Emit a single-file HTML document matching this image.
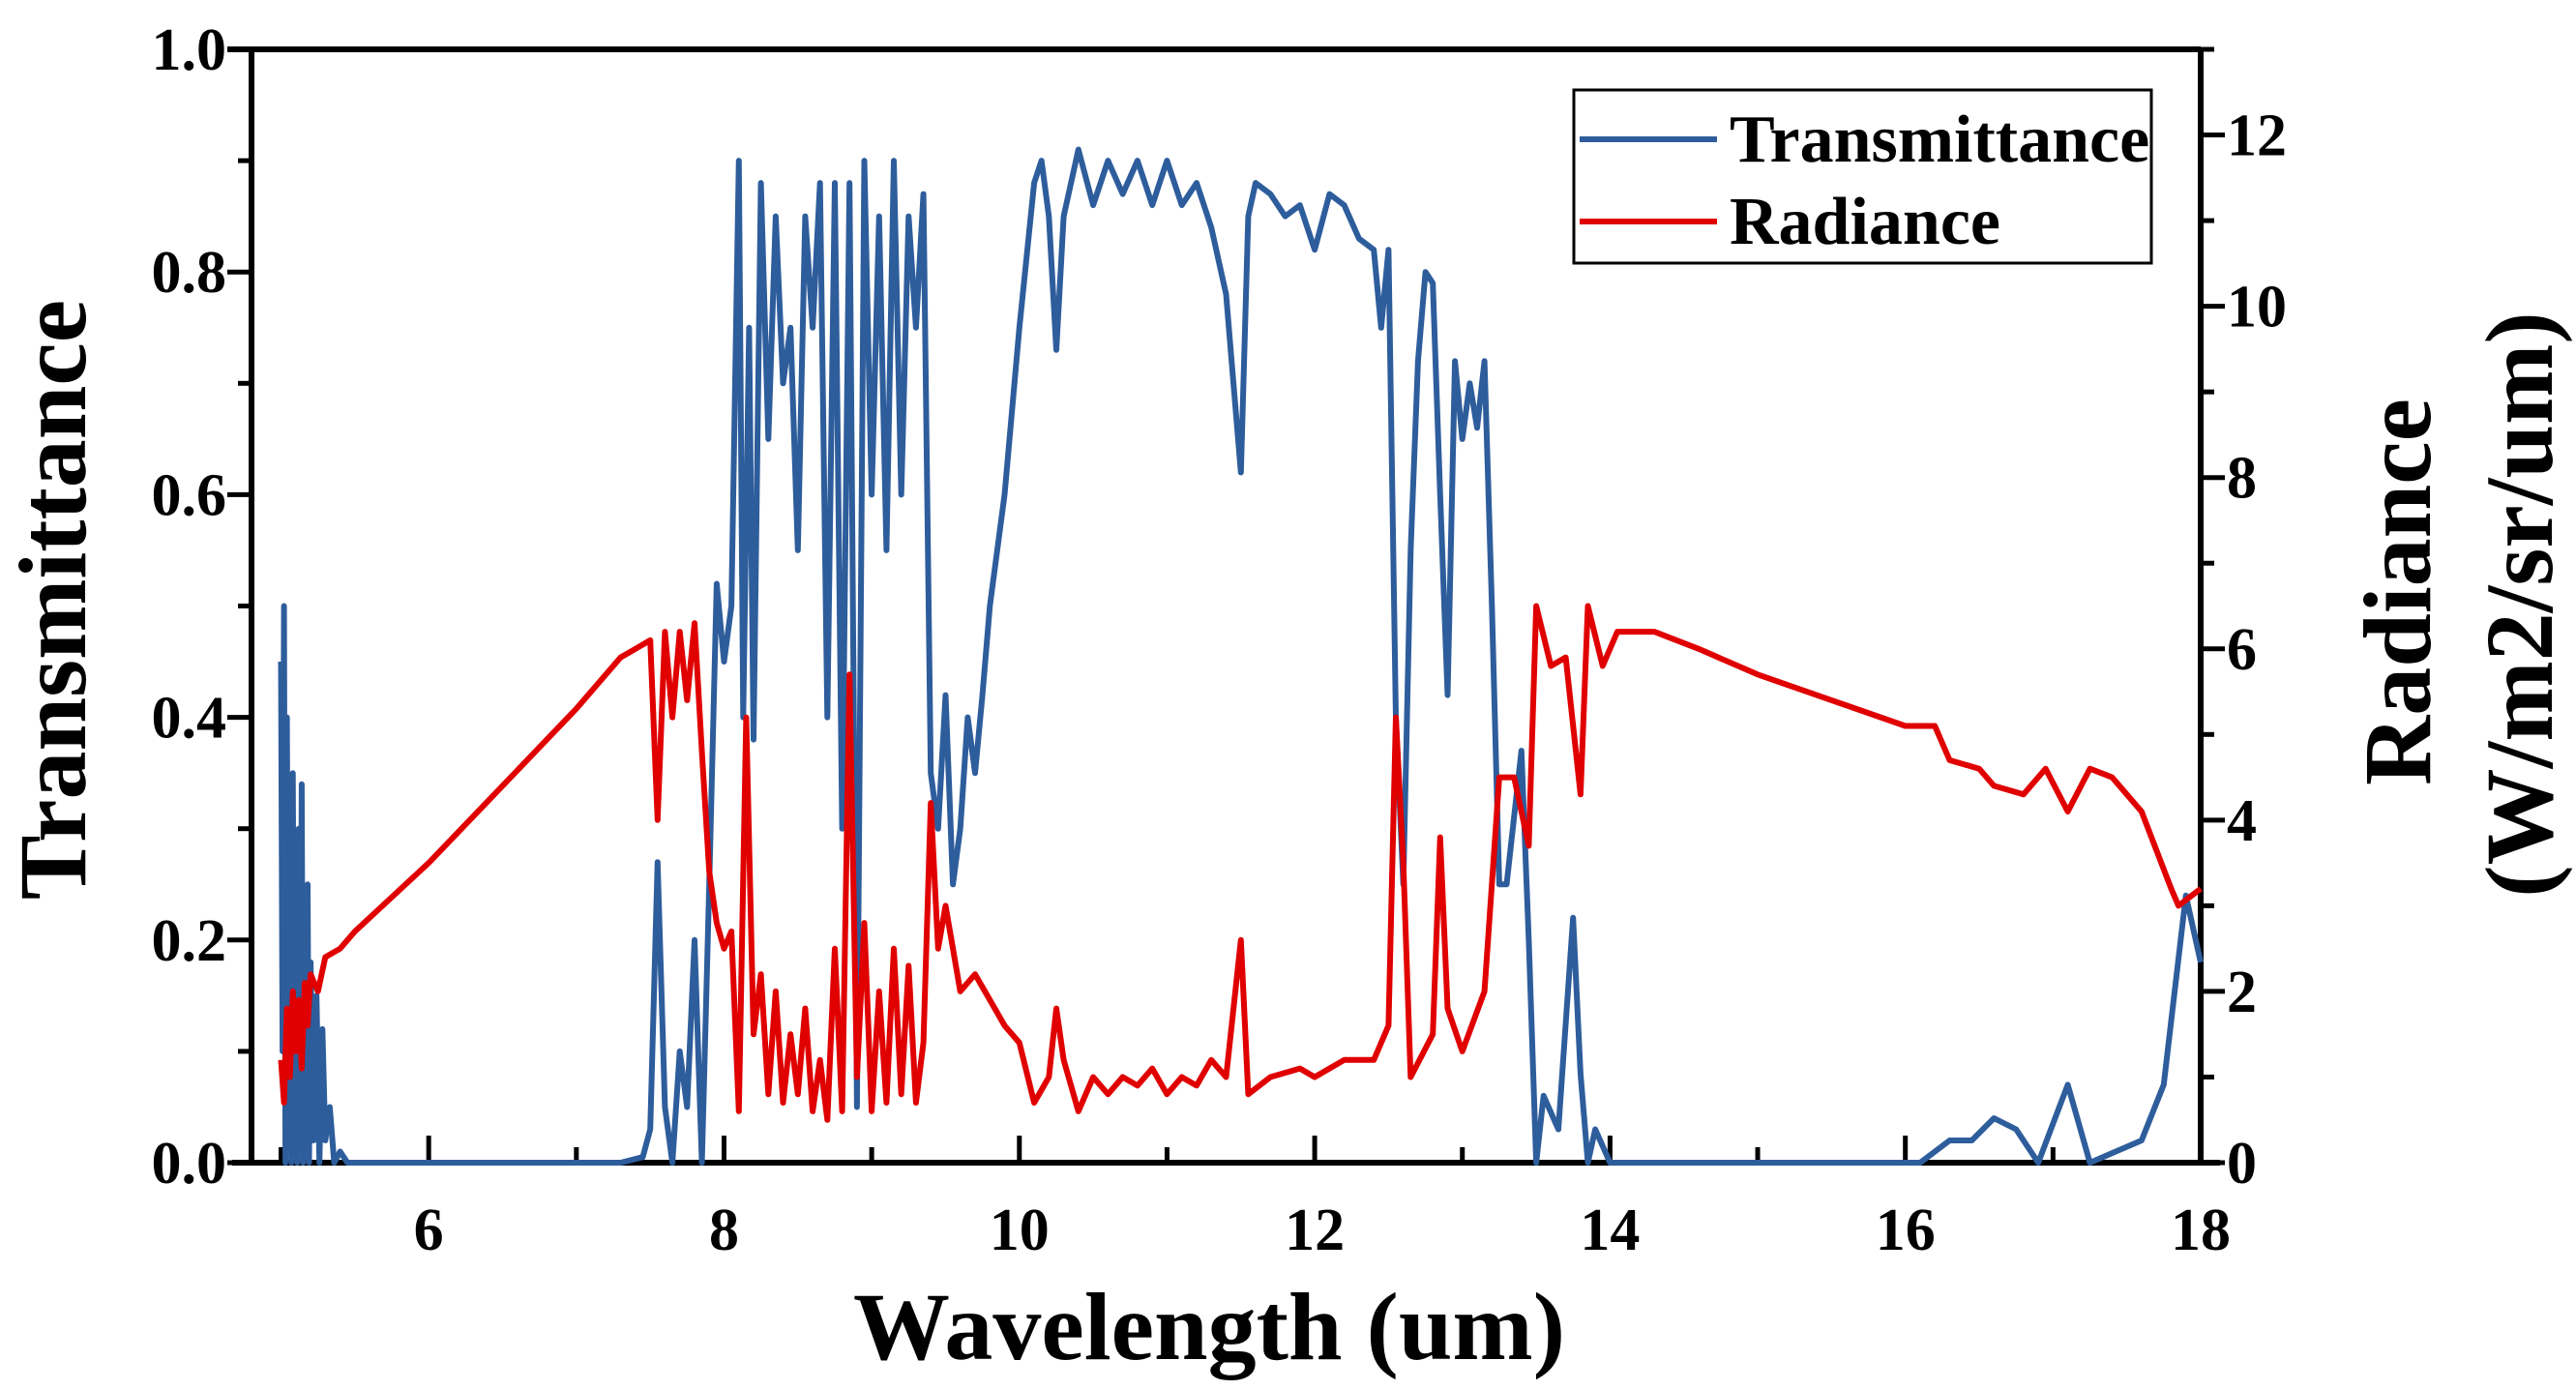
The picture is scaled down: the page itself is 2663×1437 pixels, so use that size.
<!DOCTYPE html>
<html><head><meta charset="utf-8"><style>
html,body{margin:0;padding:0;background:#fff;}
svg{display:block;}
text{font-family:"Liberation Serif",serif;font-weight:bold;fill:#000;}
</style></head><body>
<svg id="chart" width="2663" height="1437" viewBox="0 0 2663 1437">
<g id="axes"></g>
<g id="series"></g>
<g id="legend">
<rect x="1627" y="93" width="597" height="179" fill="#fff" stroke="#000" stroke-width="3"/>
<line x1="1633" y1="144" x2="1775" y2="144" stroke="#2e5d9c" stroke-width="6"/>
<text x="1788" y="167" font-size="70">Transmittance</text>
<line x1="1633" y1="229" x2="1775" y2="229" stroke="#e00000" stroke-width="6"/>
<text x="1788" y="252" font-size="70">Radiance</text>
</g>
<text x="1250" y="1405" font-size="100" text-anchor="middle">Wavelength (um)</text>
<text transform="translate(88,620) rotate(-90)" font-size="100" text-anchor="middle">Transmittance</text>
<text transform="translate(2512,612) rotate(-90)" font-size="100" text-anchor="middle">Radiance</text>
<text transform="translate(2638,625) rotate(-90)" font-size="100" text-anchor="middle">(W/m2/sr/um)</text>
</svg>
<script>
const xTicks=[6,8,10,12,14,16,18];
const leftTicks=[0.0,0.2,0.4,0.6,0.8,1.0];
const leftTickLabels=["0.0","0.2","0.4","0.6","0.8","1.0"];
const rightTicks=[0,2,4,6,8,10,12];
const transWl=[5.0,5.01,5.02,5.03,5.04,5.05,5.06,5.07,5.08,5.09,5.1,5.11,5.12,5.13,5.14,5.15,5.16,5.17,5.18,5.19,5.2,5.22,5.24,5.26,5.28,5.3,5.33,5.36,5.4,5.45,5.5,7.3,7.45,7.5,7.55,7.6,7.65,7.7,7.75,7.8,7.85,7.9,7.95,8.0,8.05,8.1,8.13,8.17,8.2,8.25,8.3,8.35,8.4,8.45,8.5,8.55,8.6,8.65,8.7,8.75,8.8,8.85,8.9,8.95,9.0,9.05,9.1,9.15,9.2,9.25,9.3,9.35,9.4,9.45,9.5,9.55,9.6,9.65,9.7,9.75,9.8,9.9,10.0,10.1,10.15,10.2,10.25,10.3,10.4,10.5,10.6,10.7,10.8,10.9,11.0,11.1,11.2,11.3,11.4,11.45,11.5,11.55,11.6,11.7,11.8,11.9,12.0,12.1,12.2,12.3,12.4,12.45,12.5,12.55,12.6,12.65,12.7,12.75,12.8,12.85,12.9,12.95,13.0,13.05,13.1,13.15,13.2,13.25,13.3,13.4,13.45,13.5,13.55,13.65,13.75,13.8,13.85,13.9,14.0,16.1,16.3,16.45,16.6,16.75,16.9,17.1,17.25,17.6,17.75,17.9,18.0];
const transVal=[0.45,0.1,0.5,0.0,0.4,0.05,0.3,0.0,0.35,0.05,0.22,0.0,0.3,0.02,0.34,0.0,0.2,0.05,0.25,0.0,0.18,0.02,0.15,0.0,0.12,0.02,0.05,0.0,0.01,0.0,0.0,0.0,0.005,0.03,0.27,0.05,0.0,0.1,0.05,0.2,0.0,0.25,0.52,0.45,0.5,0.9,0.4,0.75,0.38,0.88,0.65,0.85,0.7,0.75,0.55,0.85,0.75,0.88,0.4,0.88,0.3,0.88,0.05,0.9,0.6,0.85,0.55,0.9,0.6,0.85,0.75,0.87,0.35,0.3,0.42,0.25,0.3,0.4,0.35,0.42,0.5,0.6,0.75,0.88,0.9,0.85,0.73,0.85,0.91,0.86,0.9,0.87,0.9,0.86,0.9,0.86,0.88,0.84,0.78,0.7,0.62,0.85,0.88,0.87,0.85,0.86,0.82,0.87,0.86,0.83,0.82,0.75,0.82,0.4,0.25,0.55,0.72,0.8,0.79,0.6,0.42,0.72,0.65,0.7,0.66,0.72,0.5,0.25,0.25,0.37,0.2,0.0,0.06,0.03,0.22,0.08,0.0,0.03,0.0,0.0,0.02,0.02,0.04,0.03,0.0,0.07,0.0,0.02,0.07,0.24,0.18];
const radWl=[5.0,5.02,5.04,5.06,5.08,5.1,5.12,5.14,5.16,5.18,5.2,5.25,5.3,5.4,5.5,6.0,6.5,7.0,7.3,7.4,7.5,7.55,7.6,7.65,7.7,7.75,7.8,7.85,7.9,7.95,8.0,8.05,8.1,8.15,8.2,8.25,8.3,8.35,8.4,8.45,8.5,8.55,8.6,8.65,8.7,8.75,8.8,8.85,8.9,8.95,9.0,9.05,9.1,9.15,9.2,9.25,9.3,9.35,9.4,9.45,9.5,9.6,9.7,9.8,9.9,10.0,10.1,10.2,10.25,10.3,10.4,10.5,10.6,10.7,10.8,10.9,11.0,11.1,11.2,11.3,11.4,11.5,11.55,11.7,11.9,12.0,12.2,12.4,12.5,12.55,12.6,12.65,12.8,12.85,12.9,13.0,13.15,13.25,13.35,13.45,13.5,13.6,13.7,13.8,13.85,13.95,14.05,14.3,14.6,15.0,15.5,16.0,16.2,16.3,16.5,16.6,16.8,16.95,17.1,17.25,17.4,17.6,17.8,17.85,18.0];
const radVal=[1.2,0.7,1.8,1.0,2.0,1.3,1.9,1.1,2.1,1.6,2.2,2.0,2.4,2.5,2.7,3.5,4.4,5.3,5.9,6.0,6.1,4.0,6.2,5.2,6.2,5.4,6.3,4.8,3.4,2.8,2.5,2.7,0.6,5.2,1.5,2.2,0.8,2.0,0.7,1.5,0.8,1.8,0.6,1.2,0.5,2.5,0.6,5.7,1.0,2.8,0.6,2.0,0.7,2.5,0.8,2.3,0.7,1.4,4.2,2.5,3.0,2.0,2.2,1.9,1.6,1.4,0.7,1.0,1.8,1.2,0.6,1.0,0.8,1.0,0.9,1.1,0.8,1.0,0.9,1.2,1.0,2.6,0.8,1.0,1.1,1.0,1.2,1.2,1.6,5.2,3.5,1.0,1.5,3.8,1.8,1.3,2.0,4.5,4.5,3.7,6.5,5.8,5.9,4.3,6.5,5.8,6.2,6.2,6.0,5.7,5.4,5.1,5.1,4.7,4.6,4.4,4.3,4.6,4.1,4.6,4.5,4.1,3.2,3.0,3.2];
const NS="http://www.w3.org/2000/svg";
const L=260,R=2275,T=51,B=1202,XMIN=4.8,XMAX=18,RMAX=13;
function xs(v){return L+(v-XMIN)/(XMAX-XMIN)*(R-L);}
function yl(v){return B-v*(B-T);}
function yr(v){return B-v/RMAX*(B-T);}
function mk(tag,attrs,parent){const e=document.createElementNS(NS,tag);for(const k in attrs)e.setAttribute(k,attrs[k]);parent.appendChild(e);return e;}
const ax=document.getElementById('axes');
let e;
e=mk('line',{x1:L-20,y1:B,x2:R+20,y2:B,stroke:'#000','stroke-width':6},ax);


e=mk('line',{x1:L-25,y1:T,x2:R,y2:T,stroke:'#000','stroke-width':6},ax);


e=mk('line',{x1:L,y1:T,x2:L,y2:B,stroke:'#000','stroke-width':6},ax);


e=mk('line',{x1:R,y1:T,x2:R,y2:B,stroke:'#000','stroke-width':6},ax);


for(let v=5;v<=18;v++){const x=xs(v);const maj=v%2===0;
e=mk('line',{x1:x,y1:B,x2:x,y2:B-(maj?28:16),stroke:'#000','stroke-width':5},ax);

}
xTicks.forEach(v=>{e=mk('text',{x:xs(v),y:1292,'font-size':62,'text-anchor':'middle'},ax);e.textContent=String(v);

});
for(let i=0;i<=10;i++){const v=i/10;const y=yl(v);
e=mk('line',{x1:L,y1:y,x2:L-(i%2===0?25:14),y2:y,stroke:'#000','stroke-width':5},ax);

}
leftTicks.forEach((v,i)=>{e=mk('text',{x:234,y:yl(v)+21,'font-size':62,'text-anchor':'end'},ax);e.textContent=leftTickLabels[i];

});
for(let v=0;v<=13;v++){const y=yr(v);
e=mk('line',{x1:R,y1:y,x2:R+(v%2===0?25:14),y2:y,stroke:'#000','stroke-width':5},ax);

}
rightTicks.forEach(v=>{e=mk('text',{x:2302,y:yr(v)+21,'font-size':62,'text-anchor':'start'},ax);e.textContent=String(v);

});
const sg=document.getElementById('series');
const tp=transWl.map((w,i)=>xs(w).toFixed(1)+','+yl(transVal[i]).toFixed(1)).join(' ');
e=mk('polyline',{points:tp,fill:'none',stroke:'#2e5d9c','stroke-width':6,'stroke-linejoin':'round'},sg);


const rp=radWl.map((w,i)=>xs(w).toFixed(1)+','+yr(radVal[i]).toFixed(1)).join(' ');
e=mk('polyline',{points:rp,fill:'none',stroke:'#e00000','stroke-width':6,'stroke-linejoin':'round'},sg);


</script>
</body></html>
